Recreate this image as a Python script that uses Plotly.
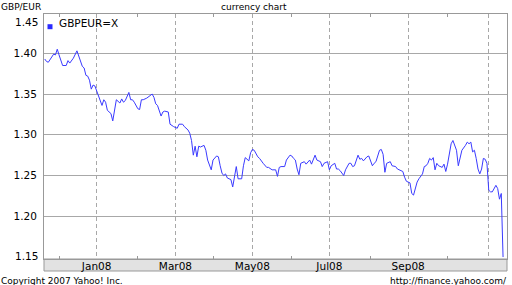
import plotly.graph_objects as go

dates = [
    "2007-11-21", "2007-11-22", "2007-11-23", "2007-11-26", "2007-11-28", "2007-11-29", "2007-11-30",
    "2007-12-03", "2007-12-05", "2007-12-07", "2007-12-10", "2007-12-11", "2007-12-13", "2007-12-17",
    "2007-12-19", "2007-12-20", "2007-12-21", "2007-12-24", "2007-12-25", "2007-12-26", "2007-12-27",
    "2007-12-28", "2007-12-31",
    "2008-01-02", "2008-01-03", "2008-01-04", "2008-01-07", "2008-01-08", "2008-01-09", "2008-01-11",
    "2008-01-14", "2008-01-15", "2008-01-16", "2008-01-18", "2008-01-21", "2008-01-22", "2008-01-23",
    "2008-01-25", "2008-01-28", "2008-01-29", "2008-01-30",
    "2008-02-01", "2008-02-04", "2008-02-05", "2008-02-06", "2008-02-08", "2008-02-11", "2008-02-13",
    "2008-02-14", "2008-02-15", "2008-02-18", "2008-02-19", "2008-02-20", "2008-02-21", "2008-02-22",
    "2008-02-26", "2008-02-27", "2008-02-29",
    "2008-03-04", "2008-03-05", "2008-03-07", "2008-03-10", "2008-03-12", "2008-03-13", "2008-03-14",
    "2008-03-17", "2008-03-18", "2008-03-19", "2008-03-20", "2008-03-21", "2008-03-25", "2008-03-26",
    "2008-03-27", "2008-03-31",
    "2008-04-01", "2008-04-03", "2008-04-04", "2008-04-07", "2008-04-08", "2008-04-09", "2008-04-10",
    "2008-04-11", "2008-04-15", "2008-04-16", "2008-04-17", "2008-04-18", "2008-04-21", "2008-04-23",
    "2008-04-24", "2008-04-25", "2008-04-29", "2008-04-30",
    "2008-05-01", "2008-05-02", "2008-05-06", "2008-05-07", "2008-05-09", "2008-05-13", "2008-05-14",
    "2008-05-16", "2008-05-20", "2008-05-21", "2008-05-22", "2008-05-23", "2008-05-27", "2008-05-28",
    "2008-05-30",
    "2008-06-02", "2008-06-03", "2008-06-04", "2008-06-05", "2008-06-06", "2008-06-09", "2008-06-11",
    "2008-06-12", "2008-06-16", "2008-06-17", "2008-06-18", "2008-06-19", "2008-06-20", "2008-06-24",
    "2008-06-25", "2008-06-26", "2008-06-30",
    "2008-07-01", "2008-07-02", "2008-07-04", "2008-07-07", "2008-07-08", "2008-07-09", "2008-07-11",
    "2008-07-14", "2008-07-16", "2008-07-17", "2008-07-18", "2008-07-21", "2008-07-23", "2008-07-24",
    "2008-07-25", "2008-07-28", "2008-07-30", "2008-07-31",
    "2008-08-04", "2008-08-05", "2008-08-06", "2008-08-08", "2008-08-11", "2008-08-12", "2008-08-13",
    "2008-08-14", "2008-08-18", "2008-08-19", "2008-08-21", "2008-08-22", "2008-08-25", "2008-08-27",
    "2008-08-28", "2008-08-29",
    "2008-09-02", "2008-09-03", "2008-09-04", "2008-09-05", "2008-09-08", "2008-09-09", "2008-09-11",
    "2008-09-12", "2008-09-15", "2008-09-16", "2008-09-17", "2008-09-18", "2008-09-19", "2008-09-22",
    "2008-09-23", "2008-09-24", "2008-09-26", "2008-09-29", "2008-09-30",
    "2008-10-01", "2008-10-02", "2008-10-03", "2008-10-06", "2008-10-08", "2008-10-09", "2008-10-10",
    "2008-10-13", "2008-10-15", "2008-10-16", "2008-10-17", "2008-10-20", "2008-10-21", "2008-10-22",
    "2008-10-23", "2008-10-24", "2008-10-27", "2008-10-28", "2008-10-29", "2008-10-30", "2008-10-31",
    "2008-11-03", "2008-11-04", "2008-11-05", "2008-11-07", "2008-11-10", "2008-11-11", "2008-11-12",
    "2008-11-13",
]

gbpeur = [
    1.393, 1.390, 1.389, 1.392, 1.399, 1.398, 1.405,
    1.398, 1.385, 1.385, 1.391, 1.388, 1.394, 1.403,
    1.390, 1.384, 1.382, 1.373, 1.372, 1.367, 1.356,
    1.361, 1.360,
    1.347, 1.341, 1.336, 1.343, 1.340, 1.330, 1.326,
    1.317, 1.330, 1.343, 1.339, 1.344, 1.340, 1.342,
    1.352, 1.343, 1.343, 1.340,
    1.332, 1.331, 1.343, 1.343, 1.345, 1.347, 1.350,
    1.346, 1.338, 1.336, 1.330, 1.323, 1.328, 1.329,
    1.328, 1.313, 1.310,
    1.308, 1.313, 1.313, 1.310, 1.306, 1.302, 1.293,
    1.275, 1.286, 1.273, 1.286, 1.285, 1.287, 1.281,
    1.269, 1.257,
    1.269, 1.274, 1.273, 1.262, 1.253, 1.250, 1.252,
    1.247, 1.245, 1.236, 1.250, 1.261, 1.246, 1.246,
    1.262, 1.272, 1.268, 1.278,
    1.282, 1.281, 1.273, 1.271, 1.265, 1.260, 1.260,
    1.257, 1.257, 1.249, 1.260, 1.261, 1.261, 1.269,
    1.275,
    1.274, 1.271, 1.269, 1.258, 1.251, 1.265, 1.267,
    1.264, 1.269, 1.264, 1.270, 1.275, 1.269, 1.267,
    1.261, 1.265, 1.267,
    1.257, 1.262, 1.265, 1.258, 1.258, 1.256, 1.250,
    1.257, 1.265, 1.265, 1.261, 1.262, 1.275, 1.270,
    1.271, 1.268, 1.273, 1.274,
    1.262, 1.265, 1.267, 1.281, 1.282, 1.276, 1.254,
    1.265, 1.267, 1.262, 1.261, 1.258, 1.257, 1.255,
    1.248, 1.243,
    1.241, 1.228, 1.226, 1.236, 1.242, 1.246, 1.252,
    1.261, 1.262, 1.265, 1.271, 1.269, 1.272, 1.257,
    1.265, 1.262, 1.260, 1.264, 1.255,
    1.264, 1.277, 1.289, 1.293, 1.281, 1.262, 1.271,
    1.281, 1.287, 1.291, 1.289, 1.291, 1.279, 1.281,
    1.271, 1.258, 1.252, 1.258, 1.271, 1.270, 1.265,
    1.232, 1.230, 1.230, 1.238, 1.234, 1.221, 1.228,
    1.150,
]

y_ticks = [1.20, 1.25, 1.30, 1.35, 1.40]
y_extra_low = 1.15
y_extra_high = 1.45
month_ticks = ["2008-01-01", "2008-03-03", "2008-05-01", "2008-07-01", "2008-09-01", "2008-11-03"]
month_labels = ["Jan08", "Mar08", "May08", "Jul08", "Sep08", ""]
minor_ticks = ["2007-12-03", "2008-02-01", "2008-04-01", "2008-06-02", "2008-08-01", "2008-10-01"]
series_name = "GBPEUR=X"

FONT = "DejaVu Sans"
LINE_COLOR = "#3a3aff"
GRID = "#a8a8a8"
BORDER = "#999999"

W, H = 512, 285
ML, MR, MT, MB = 44, 5, 14, 26
PW = W - ML - MR
PH = H - MT - MB


def px_x(p):
    return (p - ML) / PW


def px_y(p):
    return (H - MB - p) / PH


fig = go.Figure()
fig.add_trace(go.Scatter(
    x=dates, y=gbpeur, mode="lines", name=series_name,
    line=dict(color=LINE_COLOR, width=1), showlegend=False,
))

fig.update_layout(
    width=W, height=H,
    margin=dict(l=ML, r=MR, t=MT, b=MB, pad=0),
    paper_bgcolor="white", plot_bgcolor="white",
    font=dict(family=FONT, size=10.5, color="#000000"),
    xaxis=dict(
        type="date",
        rangebreaks=[dict(bounds=["sat", "mon"])],
        range=["2007-11-20 14:24", "2008-11-17 04:48"],
        tickmode="array", tickvals=month_ticks, ticktext=month_labels,
        showgrid=True, gridcolor=GRID, griddash="4px,3px", gridwidth=1,
        ticks="", showline=True, linecolor=BORDER, linewidth=1, mirror="allticks",
        tickfont=dict(family=FONT, size=10.5, color="#000"),
        ticklabelstandoff=-3,
        minor=dict(tickmode="array", tickvals=minor_ticks, ticks="inside",
                   ticklen=3, tickcolor=BORDER, tickwidth=1, showgrid=False),
        zeroline=False, fixedrange=True,
    ),
    yaxis=dict(
        range=[1.1476, 1.4482],
        tickmode="array", tickvals=y_ticks, ticktext=[f"{v:.2f}" for v in y_ticks],
        showgrid=True, gridcolor=GRID, gridwidth=1,
        ticks="", showline=True, linecolor=BORDER, linewidth=1, mirror=True,
        tickfont=dict(family=FONT, size=10.5, color="#000"),
        ticklabelstandoff=4,
        zeroline=False, fixedrange=True,
    ),
    shapes=[
        dict(type="rect", xref="paper", yref="paper", x0=0, x1=1,
             y0=-12 / PH, y1=0, fillcolor="#e2e2e2",
             line=dict(color=BORDER, width=1), layer="below"),
        dict(type="rect", xref="paper", yref="paper",
             x0=px_x(47.5), x1=px_x(52.5), y0=px_y(29.2), y1=px_y(24.2),
             fillcolor="#2b2bff", line=dict(width=0), layer="above"),
    ],
    annotations=[
        dict(text=series_name, xref="paper", yref="paper", x=px_x(56.5), y=px_y(23.3),
             xanchor="left", yanchor="middle", showarrow=False,
             font=dict(family=FONT, size=10.5, color="#000")),
        dict(text=f"{y_extra_high:.2f}", xref="paper", yref="paper", x=px_x(40), y=px_y(22),
             xanchor="right", yanchor="middle", showarrow=False,
             font=dict(family=FONT, size=10.5, color="#000")),
        dict(text=f"{y_extra_low:.2f}", xref="paper", yref="y", x=px_x(40), y=y_extra_low,
             xanchor="right", yanchor="middle", showarrow=False, yshift=1,
             font=dict(family=FONT, size=10.5, color="#000")),
        dict(text="GBP/EUR", xref="paper", yref="paper", x=px_x(-1), y=px_y(7),
             xanchor="left", yanchor="middle", showarrow=False,
             font=dict(family=FONT, size=9, color="#000")),
        dict(text="currency chart", xref="paper", yref="paper", x=px_x(253.7), y=px_y(7.5),
             xanchor="center", yanchor="middle", showarrow=False,
             font=dict(family=FONT, size=9, color="#000")),
        dict(text="Copyright 2007 Yahoo! Inc.", xref="paper", yref="paper", x=px_x(-1), y=px_y(280.5),
             xanchor="left", yanchor="middle", showarrow=False,
             font=dict(family=FONT, size=9, color="#000")),
        dict(text="http://finance.yahoo.com/", xref="paper", yref="paper", x=px_x(509), y=px_y(280.5),
             xanchor="right", yanchor="middle", showarrow=False,
             font=dict(family=FONT, size=9, color="#000")),
    ],
)

fig.write_html("out.html")
